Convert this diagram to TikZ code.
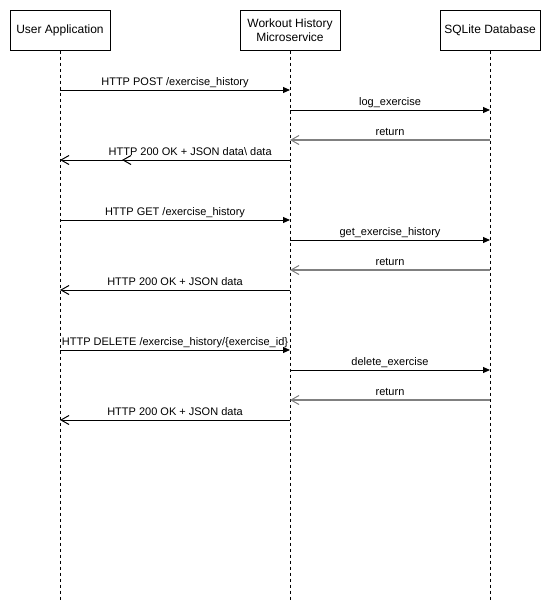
\documentclass[tikz,border=0pt]{standalone}
\usepackage{fontspec}
\setmainfont{Liberation Sans}
\usetikzlibrary{arrows.meta}
\definecolor{retgray}{RGB}{128,128,128}
\begin{document}
\begin{tikzpicture}[x=1pt,y=-1pt,
  participant/.style={draw=black, line width=1pt, fill=white, minimum width=100pt,
    minimum height=40pt, inner sep=0pt, align=center,
    font=\fontsize{12}{14}\selectfont},
  lifeline/.style={draw=black, line width=1pt, dash pattern=on 3pt off 3pt},
  request/.style={draw=black, line width=1pt, -{Triangle[length=7pt,width=6pt]}},
  response/.style={draw=black, line width=1pt, -{Straight Barb[length=8pt,width=9pt,line width=1pt]}},
  retmsg/.style={draw=retgray, line width=1.4pt, -{Straight Barb[length=8pt,width=9pt,line width=1pt]}},
  msglabel/.style={anchor=base, inner sep=0pt, font=\fontsize{11}{13}\selectfont}
]
\useasboundingbox (0,0) rectangle (551,611);

% participants
\node[participant] (ua) at (60,30) {User Application};
\node[participant] (ms) at (290,30) {Workout History\\Microservice};
\node[participant] (db) at (490,30) {SQLite Database};

% lifeline ends
\coordinate (uaend) at (60,600);
\coordinate (msend) at (290,600);
\coordinate (dbend) at (490,600);
\draw[lifeline] (ua.south) -- (uaend);
\draw[lifeline] (ms.south) -- (msend);
\draw[lifeline] (db.south) -- (dbend);

% message anchor points on the lifelines
\foreach \n/\y in {1/90,2/110,3/140,4/160,5/220,6/240,7/270,8/290,9/350,10/370,11/400,12/420}{
  \coordinate (u\n) at (60,\y);
  \coordinate (m\n) at (290,\y);
  \coordinate (d\n) at (490,\y);
}
\coordinate (echo) at (122,160);

% create exercise
\draw[request] (u1) -- (m1);
\node[msglabel] (l1) at (175,85.5) {HTTP POST /exercise\_history};
\draw[request] (m2) -- (d2);
\node[msglabel] (l2) at (390,105.5) {log\_exercise};
\draw[retmsg] (d3) -- (m3);
\node[msglabel] (l3) at (390,135.5) {return};
\draw[response] (m4) -- (u4);
\draw[response] (m4) -- (echo);
\node[msglabel, anchor=base west] (l4) at (108.5,155.5) {HTTP 200 OK + JSON data\textbackslash{} data};

% read history
\draw[request] (u5) -- (m5);
\node[msglabel] (l5) at (175,215.5) {HTTP GET /exercise\_history};
\draw[request] (m6) -- (d6);
\node[msglabel] (l6) at (390,235.5) {get\_exercise\_history};
\draw[retmsg] (d7) -- (m7);
\node[msglabel] (l7) at (390,265.5) {return};
\draw[response] (m8) -- (u8);
\node[msglabel] (l8) at (175,285.5) {HTTP 200 OK + JSON data};

% delete exercise
\draw[request] (u9) -- (m9);
\node[msglabel] (l9) at (175,345.5) {HTTP DELETE /exercise\_history/\{exercise\_id\}};
\draw[request] (m10) -- (d10);
\node[msglabel] (l10) at (390,365.5) {delete\_exercise};
\draw[retmsg] (d11) -- (m11);
\node[msglabel] (l11) at (390,395.5) {return};
\draw[response] (m12) -- (u12);
\node[msglabel] (l12) at (175,415.5) {HTTP 200 OK + JSON data};
\end{tikzpicture}
\end{document}
